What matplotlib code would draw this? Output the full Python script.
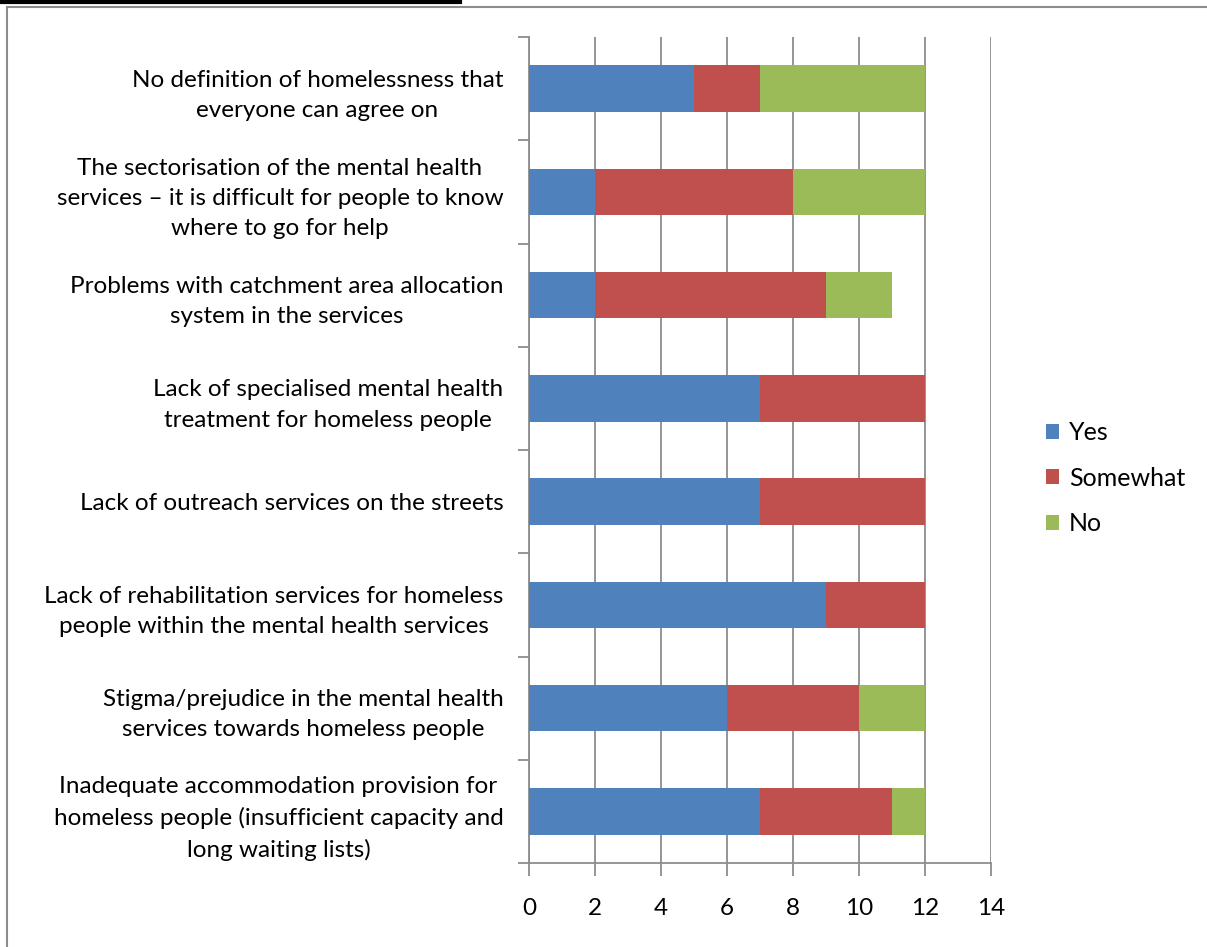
import matplotlib.pyplot as plt
from matplotlib.lines import Line2D
import numpy as np

categories = [
    "No definition of homelessness that\neveryone can agree on",
    "The sectorisation of the mental health\nservices \u2013 it is difficult for people to know\nwhere to go for help",
    "Problems with catchment area allocation\nsystem in the services",
    "Lack of specialised mental health\ntreatment for homeless people",
    "Lack of outreach services on the streets",
    "Lack of rehabilitation services for homeless\npeople within the mental health services",
    "Stigma/prejudice in the mental health\nservices towards homeless people",
    "Inadequate accommodation provision for\nhomeless people (insufficient capacity and\nlong waiting lists)",
]
yes = [5, 2, 2, 7, 7, 9, 6, 7]
somewhat = [2, 6, 7, 5, 5, 3, 4, 4]
no = [5, 4, 2, 0, 0, 0, 2, 1]
series = ["Yes", "Somewhat", "No"]
colors = ["#4F81BD", "#C0504D", "#9BBB59"]

plt.rcParams['font.family'] = ['Lato', 'DejaVu Sans']

fig = plt.figure(figsize=(12.07, 9.47), dpi=100)
ax = fig.add_axes([529 / 1207, 1 - 863 / 947, 462 / 1207, 826 / 947])

y = np.arange(len(categories))
left = np.zeros(len(categories))
for vals, name, c in zip([yes, somewhat, no], series, colors):
    ax.barh(y, vals, left=left, height=0.45, color=c, label=name, zorder=3)
    left += np.array(vals)

ax.set_xlim(0, 14)
ax.set_ylim(len(categories) - 0.5, -0.5)
ax.set_xticks(range(0, 15, 2))
ax.xaxis.grid(True, color="#8c8c8c", linewidth=1.3, zorder=0)
ax.set_yticks(np.arange(-0.5, len(categories), 1))
ax.set_yticklabels([])
ax.set_yticks(y, minor=True)
ax.set_yticklabels(categories, minor=True, multialignment="center",
                   fontsize=17.5, linespacing=1.55)
ax.tick_params(axis="y", which="minor", length=0, pad=18.5)
ax.tick_params(axis="y", which="major", length=8, color="#8c8c8c", width=1.3)
ax.tick_params(axis="x", length=9, color="#8c8c8c", width=1.3, labelsize=17.5, pad=16)
for s in ["top", "right"]:
    ax.spines[s].set_visible(False)
for s in ["left", "bottom"]:
    ax.spines[s].set_color("#8c8c8c")
    ax.spines[s].set_linewidth(1.3)

ax.legend(loc="center left", bbox_to_anchor=(1.118, 0.466), frameon=False,
          fontsize=18, handlelength=0.52, handleheight=0.52, handletextpad=0.42,
          labelspacing=0.9, borderpad=0, borderaxespad=0)

# page frame and heading underline
fig.add_artist(Line2D([7 / 1207, 7 / 1207], [0, 1 - 7 / 947], transform=fig.transFigure,
                      color="#8c8c8c", linewidth=1.5))
fig.add_artist(Line2D([7 / 1207, 1], [1 - 7 / 947, 1 - 7 / 947], transform=fig.transFigure,
                      color="#8c8c8c", linewidth=1.5))
fig.add_artist(Line2D([0, 460 / 1207], [1 - 2 / 947, 1 - 2 / 947], transform=fig.transFigure,
                      color="black", linewidth=3))

fig.savefig("out.png", dpi=100)
